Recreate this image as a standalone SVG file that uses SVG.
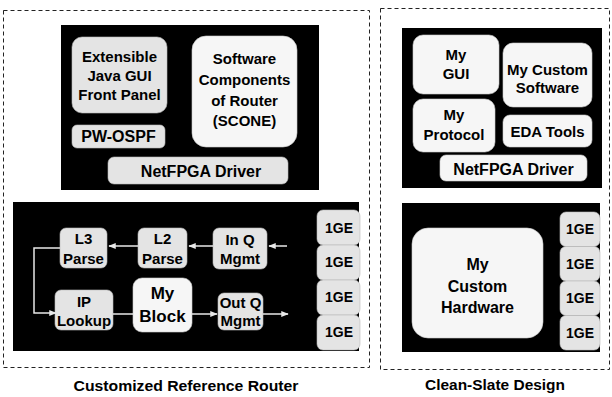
<svg xmlns="http://www.w3.org/2000/svg" width="612" height="397" viewBox="0 0 612 397">
<style>
text{font-family:"Liberation Sans",Arial,sans-serif;font-weight:bold;fill:#000;text-anchor:middle}
.t{font-size:15px}
.s{font-size:15px}
.e{font-size:14px}
.b{font-size:16px}
.m{font-size:17px}
.cap{font-size:15px}
.frame{fill:none;stroke:#222;stroke-width:1;stroke-dasharray:4 3}
.panel{fill:#000}
.g{fill:#e4e4e4;stroke:#bbb;stroke-width:0.6}
.w{fill:#f6f6f6;stroke:#ccc;stroke-width:0.6}
.c{fill:none;stroke:#e8e8e8;stroke-width:1.5}
</style>
<defs>
<marker id="ah" viewBox="0 0 10 10" refX="9" refY="5" markerWidth="5" markerHeight="5" orient="auto" markerUnits="strokeWidth">
<path d="M0,1 L10,5 L0,9 z" fill="#e8e8e8"/>
</marker>
</defs>
<rect width="612" height="397" fill="#fff"/>

<g id="frame-left"><rect class="frame" x="3.5" y="10.5" width="366" height="357"/></g>
<g id="frame-right"><rect class="frame" x="380.5" y="8.5" width="229" height="361"/></g>

<g id="panel-sw-left"><rect class="panel" x="61" y="25" width="258" height="165"/></g>
<g id="panel-hw-left"><rect class="panel" x="13" y="202" width="346" height="149"/></g>
<g id="panel-sw-right"><rect class="panel" x="402" y="28" width="200" height="160"/></g>
<g id="panel-hw-right"><rect class="panel" x="402" y="203" width="198" height="149"/></g>

<g id="java-gui"><rect class="g" x="72" y="37" width="95" height="76" rx="10"/>
<text class="t" x="119.5" y="62">Extensible</text><text class="t" x="119.5" y="81">Java GUI</text><text class="t" x="119.5" y="100">Front Panel</text></g>
<g id="scone"><rect class="w" x="192" y="36" width="105" height="111" rx="14"/>
<text class="t" x="244.5" y="64">Software</text><text class="t" x="244.5" y="85">Components</text><text class="t" x="244.5" y="106">of Router</text><text class="t" x="244.5" y="126">(SCONE)</text></g>
<g id="pw-ospf"><rect class="g" x="72" y="125" width="93" height="23" rx="5"/>
<text class="b" x="118.5" y="142">PW-OSPF</text></g>
<g id="driver-left"><rect class="g" x="108" y="157" width="180" height="27" rx="6"/>
<text class="b" x="201" y="177">NetFPGA Driver</text></g>

<g id="l3-parse"><rect class="g" x="60" y="228" width="47" height="40" rx="6"/>
<text class="s" x="83.5" y="244">L3</text><text class="s" x="83.5" y="264">Parse</text></g>
<g id="l2-parse"><rect class="g" x="138" y="228" width="49" height="40" rx="6"/>
<text class="s" x="162.5" y="244">L2</text><text class="s" x="162.5" y="264">Parse</text></g>
<g id="in-q"><rect class="g" x="213" y="228" width="54" height="41" rx="6"/>
<text class="s" x="240" y="245">In Q</text><text class="s" x="240" y="264">Mgmt</text></g>
<g id="ip-lookup"><rect class="g" x="55" y="290" width="58" height="40" rx="6"/>
<text class="s" x="84" y="307">IP</text><text class="s" x="84" y="326">Lookup</text></g>
<g id="my-block"><rect class="w" x="133" y="278" width="59" height="54" rx="9"/>
<text class="m" x="162.5" y="299">My</text><text class="m" x="162.5" y="322">Block</text></g>
<g id="out-q"><rect class="g" x="218" y="293" width="45" height="37" rx="6"/>
<text class="s" x="240.5" y="308">Out Q</text><text class="s" x="240.5" y="326">Mgmt</text></g>

<g id="ge-left">
<rect class="g" x="317" y="210" width="43" height="35" rx="6"/>
<rect class="g" x="317" y="245" width="43" height="35" rx="6"/>
<rect class="g" x="317" y="280" width="43" height="35" rx="6"/>
<rect class="g" x="317" y="315" width="43" height="35" rx="6"/>
<text class="e" x="339" y="233">1GE</text><text class="e" x="339" y="267">1GE</text><text class="e" x="339" y="302">1GE</text><text class="e" x="339" y="337">1GE</text>
</g>

<g id="connectors">
<line class="c" x1="287" y1="246" x2="269" y2="246" marker-end="url(#ah)"/>
<line class="c" x1="213" y1="246" x2="189" y2="246" marker-end="url(#ah)"/>
<line class="c" x1="138" y1="246" x2="109" y2="246" marker-end="url(#ah)"/>
<polyline class="c" points="60,248 34,248 34,313 56,313" marker-end="url(#ah)"/>
<line class="c" x1="113" y1="314" x2="133" y2="314"/>
<line class="c" x1="192" y1="314" x2="217" y2="314" marker-end="url(#ah)"/>
<line class="c" x1="263" y1="314" x2="288" y2="314" marker-end="url(#ah)"/>
</g>

<g id="my-gui"><rect class="w" x="413" y="35" width="86" height="59" rx="10"/>
<text class="t" x="456" y="60">My</text><text class="t" x="456" y="79">GUI</text></g>
<g id="my-custom-software"><rect class="w" x="503" y="43" width="89" height="64" rx="10"/>
<text class="t" x="547.5" y="75">My Custom</text><text class="t" x="547.5" y="93">Software</text></g>
<g id="my-protocol"><rect class="w" x="413" y="99" width="82" height="53" rx="10"/>
<text class="t" x="454" y="120">My</text><text class="t" x="454" y="140">Protocol</text></g>
<g id="eda-tools"><rect class="w" x="503" y="115" width="89" height="32" rx="7"/>
<text class="t" x="547.5" y="137">EDA Tools</text></g>
<g id="driver-right"><rect class="w" x="440" y="155" width="147" height="26" rx="6"/>
<text class="b" x="513.5" y="175">NetFPGA Driver</text></g>

<g id="my-custom-hardware"><rect class="w" x="412" y="228" width="131" height="110" rx="16"/>
<text class="b" x="477.5" y="270">My</text><text class="b" x="477.5" y="292">Custom</text><text class="b" x="477.5" y="313">Hardware</text></g>

<g id="ge-right">
<rect class="g" x="560" y="212" width="40" height="34.5" rx="6"/>
<rect class="g" x="560" y="246.5" width="40" height="34.5" rx="6"/>
<rect class="g" x="560" y="281" width="40" height="34.5" rx="6"/>
<rect class="g" x="560" y="315.5" width="40" height="34.5" rx="6"/>
<text class="e" x="580" y="234">1GE</text><text class="e" x="580" y="269">1GE</text><text class="e" x="580" y="303">1GE</text><text class="e" x="580" y="338">1GE</text>
</g>

<g id="captions">
<text class="cap" x="186" y="391" textLength="225" lengthAdjust="spacingAndGlyphs">Customized Reference Router</text>
<text class="cap" x="495" y="390" textLength="140" lengthAdjust="spacingAndGlyphs">Clean-Slate Design</text>
</g>
</svg>
